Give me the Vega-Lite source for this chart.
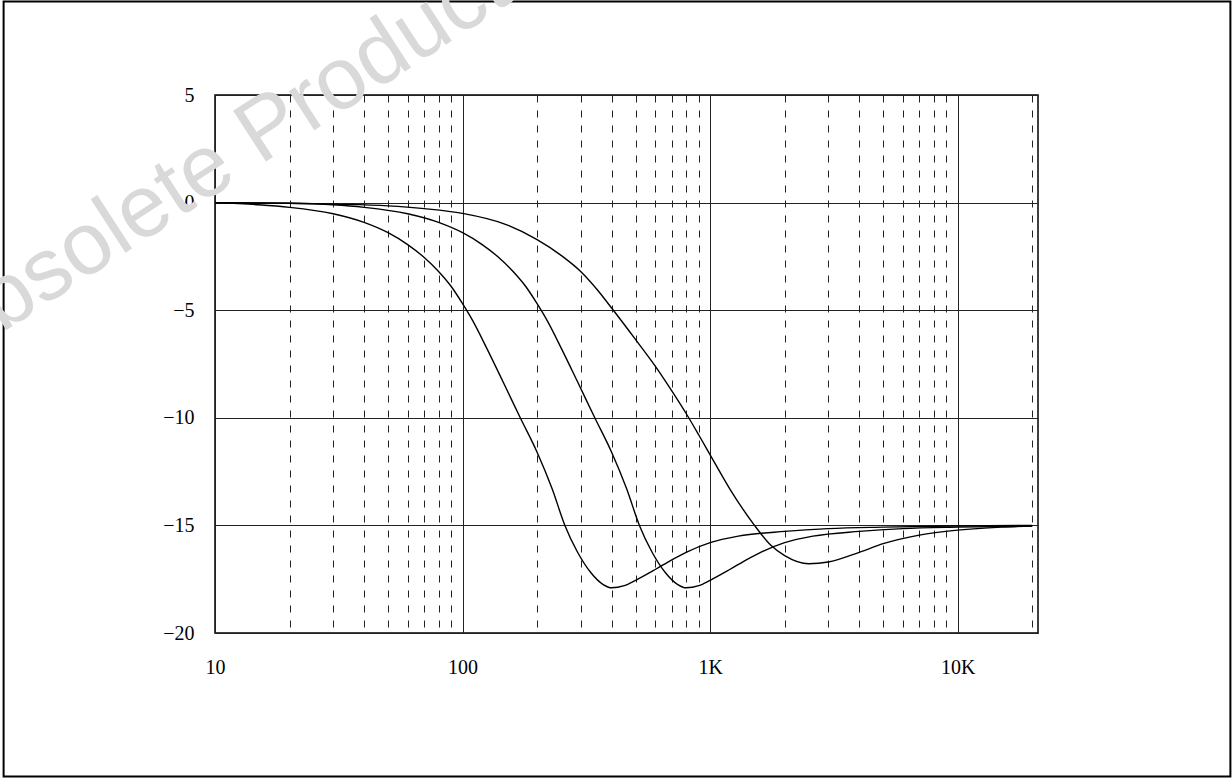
{
  "$schema": "https://vega.github.io/schema/vega-lite/v6.json",
  "width": 823,
  "height": 538,
  "autosize": {"type": "none"},
  "padding": {"left": 215, "top": 95, "right": 194, "bottom": 145},
  "background": "white",
  "config": {"view": {"stroke": "black", "strokeWidth": 1.5}, "font": "Liberation Serif"},
  "datasets": {
    "curves": [
      {"curve": "A", "f": 10, "db": 0}, {"curve": "A", "f": 15, "db": -0.1}, {"curve": "A", "f": 20, "db": -0.22},
      {"curve": "A", "f": 30, "db": -0.52}, {"curve": "A", "f": 40, "db": -0.92}, {"curve": "A", "f": 50, "db": -1.4},
      {"curve": "A", "f": 60, "db": -1.95}, {"curve": "A", "f": 70, "db": -2.55}, {"curve": "A", "f": 80, "db": -3.2},
      {"curve": "A", "f": 90, "db": -3.9}, {"curve": "A", "f": 100, "db": -4.7}, {"curve": "A", "f": 110, "db": -5.5},
      {"curve": "A", "f": 125, "db": -6.75}, {"curve": "A", "f": 146, "db": -8.35}, {"curve": "A", "f": 171, "db": -10.0},
      {"curve": "A", "f": 200, "db": -11.6}, {"curve": "A", "f": 230, "db": -13.3}, {"curve": "A", "f": 259, "db": -15.0},
      {"curve": "A", "f": 290, "db": -16.2}, {"curve": "A", "f": 330, "db": -17.2}, {"curve": "A", "f": 370, "db": -17.75},
      {"curve": "A", "f": 400, "db": -17.9}, {"curve": "A", "f": 450, "db": -17.8}, {"curve": "A", "f": 500, "db": -17.55},
      {"curve": "A", "f": 600, "db": -17.05}, {"curve": "A", "f": 700, "db": -16.6}, {"curve": "A", "f": 800, "db": -16.25},
      {"curve": "A", "f": 1000, "db": -15.8}, {"curve": "A", "f": 1300, "db": -15.5}, {"curve": "A", "f": 2000, "db": -15.28},
      {"curve": "A", "f": 3000, "db": -15.15}, {"curve": "A", "f": 5000, "db": -15.08}, {"curve": "A", "f": 10000, "db": -15.03},
      {"curve": "A", "f": 20000, "db": -15.0},
      {"curve": "B", "f": 10, "db": 0}, {"curve": "B", "f": 20, "db": -0.03}, {"curve": "B", "f": 30, "db": -0.1},
      {"curve": "B", "f": 40, "db": -0.22}, {"curve": "B", "f": 60, "db": -0.52}, {"curve": "B", "f": 80, "db": -0.92},
      {"curve": "B", "f": 100, "db": -1.4}, {"curve": "B", "f": 120, "db": -1.95}, {"curve": "B", "f": 140, "db": -2.55},
      {"curve": "B", "f": 160, "db": -3.2}, {"curve": "B", "f": 180, "db": -3.9}, {"curve": "B", "f": 200, "db": -4.7},
      {"curve": "B", "f": 220, "db": -5.5}, {"curve": "B", "f": 250, "db": -6.75}, {"curve": "B", "f": 292, "db": -8.35},
      {"curve": "B", "f": 342, "db": -10.0}, {"curve": "B", "f": 400, "db": -11.6}, {"curve": "B", "f": 460, "db": -13.3},
      {"curve": "B", "f": 518, "db": -15.0}, {"curve": "B", "f": 580, "db": -16.2}, {"curve": "B", "f": 660, "db": -17.2},
      {"curve": "B", "f": 740, "db": -17.75}, {"curve": "B", "f": 800, "db": -17.9}, {"curve": "B", "f": 900, "db": -17.8},
      {"curve": "B", "f": 1000, "db": -17.55}, {"curve": "B", "f": 1200, "db": -17.05}, {"curve": "B", "f": 1400, "db": -16.6},
      {"curve": "B", "f": 1600, "db": -16.25}, {"curve": "B", "f": 2000, "db": -15.8}, {"curve": "B", "f": 2600, "db": -15.5},
      {"curve": "B", "f": 4000, "db": -15.28}, {"curve": "B", "f": 6000, "db": -15.15}, {"curve": "B", "f": 10000, "db": -15.08},
      {"curve": "B", "f": 20000, "db": -15.03},
      {"curve": "C", "f": 10, "db": 0}, {"curve": "C", "f": 20, "db": -0.03}, {"curve": "C", "f": 30, "db": -0.07},
      {"curve": "C", "f": 50, "db": -0.15}, {"curve": "C", "f": 70, "db": -0.28}, {"curve": "C", "f": 100, "db": -0.5},
      {"curve": "C", "f": 150, "db": -1.02}, {"curve": "C", "f": 200, "db": -1.72}, {"curve": "C", "f": 250, "db": -2.45},
      {"curve": "C", "f": 300, "db": -3.2}, {"curve": "C", "f": 350, "db": -4.05}, {"curve": "C", "f": 400, "db": -4.9},
      {"curve": "C", "f": 500, "db": -6.37}, {"curve": "C", "f": 600, "db": -7.6}, {"curve": "C", "f": 700, "db": -8.75},
      {"curve": "C", "f": 800, "db": -9.8}, {"curve": "C", "f": 900, "db": -10.8}, {"curve": "C", "f": 1000, "db": -11.72},
      {"curve": "C", "f": 1200, "db": -13.3}, {"curve": "C", "f": 1500, "db": -14.95}, {"curve": "C", "f": 1750, "db": -15.9},
      {"curve": "C", "f": 2000, "db": -16.4}, {"curve": "C", "f": 2500, "db": -16.78}, {"curve": "C", "f": 3000, "db": -16.7},
      {"curve": "C", "f": 4000, "db": -16.25}, {"curve": "C", "f": 5000, "db": -15.85}, {"curve": "C", "f": 7000, "db": -15.45},
      {"curve": "C", "f": 10000, "db": -15.22}, {"curve": "C", "f": 15000, "db": -15.08}, {"curve": "C", "f": 20000, "db": -15.03}
    ],
    "frame": [{"f": 1.4, "f2": 126300, "db": 9.345, "db2": -26.67}],
    "watermark": [{"label": "Obsolete Product", "f": 10, "db": 1.81}]
  },
  "layer": [
    {
      "data": {"name": "curves"},
      "mark": {"type": "line", "color": "black", "strokeWidth": 1.4, "interpolate": "monotone"},
      "encoding": {
        "x": {
          "field": "f", "type": "quantitative",
          "scale": {"type": "log", "domain": [10, 21100], "nice": false},
          "axis": {
            "values": [10, 20, 30, 40, 50, 60, 70, 80, 90, 100, 200, 300, 400, 500, 600, 700, 800, 900, 1000, 2000, 3000, 4000, 5000, 6000, 7000, 8000, 9000, 10000, 20000],
            "title": null, "ticks": false, "domain": false,
            "labelExpr": "datum.value == 10 ? '10' : datum.value == 100 ? '100' : datum.value == 1000 ? '1K' : datum.value == 10000 ? '10K' : ''",
            "labelFont": "Liberation Serif", "labelFontSize": 20, "labelPadding": 24, "labelColor": "black",
            "labelOverlap": false, "labelFlush": false, "labelBound": false,
            "grid": true, "gridColor": "#222", "gridWidth": 1,
            "gridDash": {"condition": {"test": "datum.value == 10 || datum.value == 100 || datum.value == 1000 || datum.value == 10000", "value": []}, "value": [7, 8]}
          }
        },
        "y": {
          "field": "db", "type": "quantitative",
          "scale": {"domain": [-20, 5], "nice": false, "zero": false},
          "axis": {
            "values": [-20, -15, -10, -5, 0, 5],
            "title": null, "ticks": false, "domain": false,
            "labelFont": "Liberation Serif", "labelFontSize": 20, "labelPadding": 21, "labelColor": "black",
            "labelOverlap": false, "labelFlush": false,
            "grid": true, "gridColor": "#222", "gridWidth": 1
          }
        },
        "detail": {"field": "curve"}
      }
    },
    {
      "data": {"name": "frame"},
      "mark": {"type": "rect", "filled": false, "stroke": "black", "strokeWidth": 2},
      "encoding": {
        "x": {"field": "f", "type": "quantitative", "scale": {"type": "log", "domain": [10, 21100], "nice": false}},
        "x2": {"field": "f2"},
        "y": {"field": "db", "type": "quantitative", "scale": {"domain": [-20, 5], "nice": false, "zero": false}},
        "y2": {"field": "db2"}
      }
    },
    {
      "data": {"name": "watermark"},
      "mark": {"type": "text", "font": "Liberation Sans", "fontSize": 88, "angle": -33, "color": "#d9d9d9", "align": "center", "baseline": "middle"},
      "encoding": {
        "x": {"field": "f", "type": "quantitative", "scale": {"type": "log", "domain": [10, 21100], "nice": false}},
        "y": {"field": "db", "type": "quantitative", "scale": {"domain": [-20, 5], "nice": false, "zero": false}},
        "text": {"field": "label"}
      }
    }
  ]
}
